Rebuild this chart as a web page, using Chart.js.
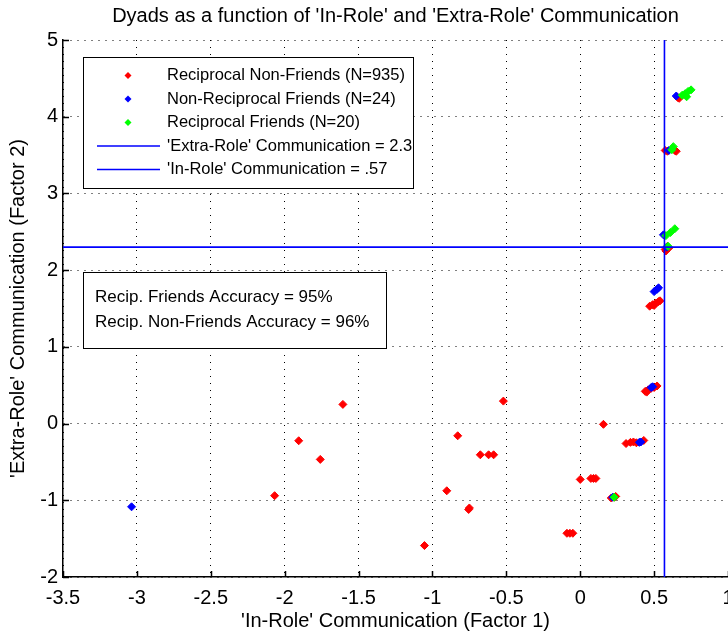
<!DOCTYPE html>
<html>
<head>
<meta charset="utf-8">
<script src="https://cdn.jsdelivr.net/npm/chart.js@4.4.1/dist/chart.umd.min.js"></script>
<style>
  html, body { margin: 0; padding: 0; background: #fff; overflow: hidden; }
  #wrap { position: relative; width: 733px; height: 634px; }
</style>
</head>
<body>
<div id="wrap"><canvas id="dyads"></canvas></div>
<script>
// Text
const TITLE = "Dyads as a function of 'In-Role' and 'Extra-Role' Communication";
const X_TITLE = "'In-Role' Communication (Factor 1)";
const Y_TITLE = "'Extra-Role' Communication (Factor 2)";
const SERIES_LABELS = [
  'Reciprocal Non-Friends (N=935)',
  'Non-Reciprocal Friends (N=24)',
  'Reciprocal Friends (N=20)',
  "'Extra-Role' Communication = 2.3",
  "'In-Role' Communication = .57",
];
const ACCURACY_LINES = [
  'Recip. Friends Accuracy = 95%',
  'Recip. Non-Friends Accuracy = 96%',
];

// Axes
const X_TICKS = [-3.5, -3, -2.5, -2, -1.5, -1, -0.5, 0, 0.5, 1];
const Y_TICKS = [-2, -1, 0, 1, 2, 3, 4, 5];

// Cut-off lines
const EXTRA_ROLE_CUT = 2.3;
const IN_ROLE_CUT = 0.57;

// Reciprocal non-friends (red)
const recipNonFriendsX = [
  0.67, 0.66,
  0.575, 0.59, 0.64, 0.65,
  0.59, 0.575, 0.60, 0.58,
  0.47, 0.49, 0.50, 0.51, 0.53, 0.54,
  0.44, 0.45, 0.46, 0.48, 0.50, 0.52,
  0.31, 0.34, 0.36, 0.38, 0.43,
  0.157,
  0.0, 0.072, 0.09, 0.106,
  0.21, 0.23, 0.24,
  -0.09, -0.07, -0.05,
  -0.52, -0.829, -0.676, -0.62, -0.586, -0.903, -0.755, -0.75, -1.054,
  -1.606, -1.905, -1.759, -2.068,
];
const recipNonFriendsY = [
  4.24, 4.25,
  3.56, 3.55, 3.56, 3.55,
  2.31, 2.27, 2.29, 2.25,
  1.53, 1.55, 1.54, 1.57, 1.59, 1.60,
  0.42, 0.41, 0.44, 0.46, 0.47, 0.49,
  -0.26, -0.245, -0.24, -0.25, -0.22,
  -0.01,
  -0.728, -0.715, -0.715, -0.715,
  -0.97, -0.96, -0.95,
  -1.43, -1.43, -1.43,
  0.293, -0.159, -0.407, -0.407, -0.407, -0.876, -1.12, -1.10, -1.59,
  0.25, -0.224, -0.467, -0.94,
];

// Non-reciprocal friends (blue)
const nonRecipFriendsX = [-3.036, 0.65, 0.60, 0.563, 0.585, 0.50, 0.52, 0.53, 0.48, 0.49, 0.40, 0.41, 0.22];
const nonRecipFriendsY = [-1.085, 4.27, 3.56, 2.46, 2.30, 1.72, 1.75, 1.77, 0.47, 0.48, -0.245, -0.24, -0.96];

// Reciprocal friends (green)
const recipFriendsX = [0.69, 0.71, 0.72, 0.73, 0.75, 0.62, 0.63, 0.58, 0.61, 0.64, 0.595, 0.23];
const recipFriendsY = [4.28, 4.30, 4.26, 4.33, 4.35, 3.57, 3.61, 2.45, 2.49, 2.54, 2.31, -0.96];

const FONT = "'Liberation Sans', Arial, Helvetica, sans-serif";
const toPoints = (xs, ys) => xs.map((x, i) => ({ x, y: ys[i] }));

const scatterStyle = (colour, order) => ({
  type: 'scatter',
  pointStyle: 'rectRot',
  pointRadius: 4,
  borderWidth: 1,
  borderColor: colour,
  backgroundColor: colour,
  order,
});

// MATLAB-like inward tick marks, legend box and accuracy note
const matlabExtras = {
  id: 'matlabExtras',
  afterDatasetsDraw(chart) {
    const { ctx, chartArea: a, scales: { x, y } } = chart;
    ctx.save();

    // inward ticks
    ctx.strokeStyle = '#000';
    ctx.lineWidth = 1.5;
    ctx.beginPath();
    X_TICKS.forEach(v => {
      const px = Math.round(x.getPixelForValue(v)) + 0.5;
      ctx.moveTo(px, a.bottom);
      ctx.lineTo(px, a.bottom - 6);
    });
    Y_TICKS.forEach(v => {
      const py = Math.round(y.getPixelForValue(v)) + 0.5;
      ctx.moveTo(a.left, py);
      ctx.lineTo(a.left + 6, py);
    });
    ctx.stroke();

    // legend
    const lx = 83, ly = 57, lw = 330, lh = 131;
    ctx.fillStyle = '#fff';
    ctx.fillRect(lx, ly, lw, lh);
    ctx.lineWidth = 1;
    ctx.strokeStyle = '#000';
    ctx.strokeRect(lx + 0.5, ly + 0.5, lw, lh);

    ctx.font = '16.5px ' + FONT;
    ctx.textBaseline = 'middle';
    ctx.textAlign = 'left';
    chart.data.datasets.forEach((ds, i) => {
      const ry = ly + 18.5 + i * 23.5;
      if (ds.type === 'scatter') {
        ctx.fillStyle = ds.backgroundColor;
        ctx.beginPath();
        ctx.moveTo(128, ry - 3.5);
        ctx.lineTo(131.5, ry);
        ctx.lineTo(128, ry + 3.5);
        ctx.lineTo(124.5, ry);
        ctx.closePath();
        ctx.fill();
      } else {
        ctx.strokeStyle = ds.borderColor;
        ctx.lineWidth = ds.borderWidth;
        ctx.beginPath();
        ctx.moveTo(97, ry);
        ctx.lineTo(160, ry);
        ctx.stroke();
      }
      ctx.fillStyle = '#000';
      ctx.fillText(ds.label, 167, ry);
    });

    // accuracy note
    const bx = 83, by = 272, bw = 303, bh = 76;
    ctx.fillStyle = '#fff';
    ctx.fillRect(bx, by, bw, bh);
    ctx.strokeStyle = '#000';
    ctx.lineWidth = 1;
    ctx.strokeRect(bx + 0.5, by + 0.5, bw, bh);
    ctx.font = '17px ' + FONT;
    ctx.fillStyle = '#000';
    ACCURACY_LINES.forEach((t, i) => ctx.fillText(t, 95, by + 25 + i * 25));

    ctx.restore();
  },
};

new Chart(document.getElementById('dyads'), {
  data: {
    datasets: [
      { ...scatterStyle('#ff0000', 5), label: SERIES_LABELS[0], data: toPoints(recipNonFriendsX, recipNonFriendsY) },
      { ...scatterStyle('#0000ff', 4), label: SERIES_LABELS[1], data: toPoints(nonRecipFriendsX, nonRecipFriendsY) },
      { ...scatterStyle('#00ff00', 3), label: SERIES_LABELS[2], data: toPoints(recipFriendsX, recipFriendsY) },
      {
        type: 'line', label: SERIES_LABELS[3], order: 2,
        data: [{ x: X_TICKS[0], y: EXTRA_ROLE_CUT }, { x: X_TICKS[X_TICKS.length - 1], y: EXTRA_ROLE_CUT }],
        borderColor: '#0000ff', borderWidth: 1.6, pointRadius: 0, fill: false,
      },
      {
        type: 'line', label: SERIES_LABELS[4], order: 1,
        data: [{ x: IN_ROLE_CUT, y: Y_TICKS[0] }, { x: IN_ROLE_CUT, y: Y_TICKS[Y_TICKS.length - 1] }],
        borderColor: '#0000ff', borderWidth: 1.6, pointRadius: 0, fill: false,
      },
    ],
  },
  options: {
    responsive: true,
    maintainAspectRatio: false,
    animation: false,
    events: [],
    layout: { padding: { top: 0, right: 0, bottom: 0, left: 0 } },
    plugins: {
      legend: { display: false },
      tooltip: { enabled: false },
      title: {
        display: true,
        text: TITLE,
        fullSize: false,
        color: '#000',
        font: { family: FONT, size: 20, weight: 'normal' },
        padding: { top: 4, bottom: 12 },
      },
    },
    scales: {
      x: {
        type: 'linear',
        min: X_TICKS[0],
        max: X_TICKS[X_TICKS.length - 1],
        afterBuildTicks: s => { s.ticks = X_TICKS.map(v => ({ value: v })); },
        afterFit: s => { s.height = 57; s.paddingLeft = 0; s.paddingRight = 0; },
        ticks: {
          autoSkip: false, maxRotation: 0, padding: 9, color: '#000',
          font: { family: FONT, size: 20 },
          callback: v => String(v),
        },
        grid: { color: '#000', lineWidth: 1, drawTicks: false },
        border: { display: true, color: '#000', width: 1.5, dash: [1, 6] },
        title: {
          display: true, text: X_TITLE, color: '#000',
          font: { family: FONT, size: 20 }, padding: { top: 0, bottom: 1 },
        },
      },
      y: {
        type: 'linear',
        min: Y_TICKS[0],
        max: Y_TICKS[Y_TICKS.length - 1],
        afterBuildTicks: s => { s.ticks = Y_TICKS.map(v => ({ value: v })); },
        afterFit: s => { s.width = 63; s.paddingTop = 0; s.paddingBottom = 0; },
        ticks: {
          autoSkip: false, padding: 5, color: '#000',
          font: { family: FONT, size: 20 },
          callback: v => String(v),
        },
        grid: { color: '#000', lineWidth: 1, drawTicks: false },
        border: { display: true, color: '#000', width: 1.5, dash: [1, 6] },
        title: {
          display: true, text: Y_TITLE, color: '#000',
          font: { family: FONT, size: 20 }, padding: { top: 6, bottom: 0 },
        },
      },
    },
  },
  plugins: [matlabExtras],
});
</script>
</body>
</html>
